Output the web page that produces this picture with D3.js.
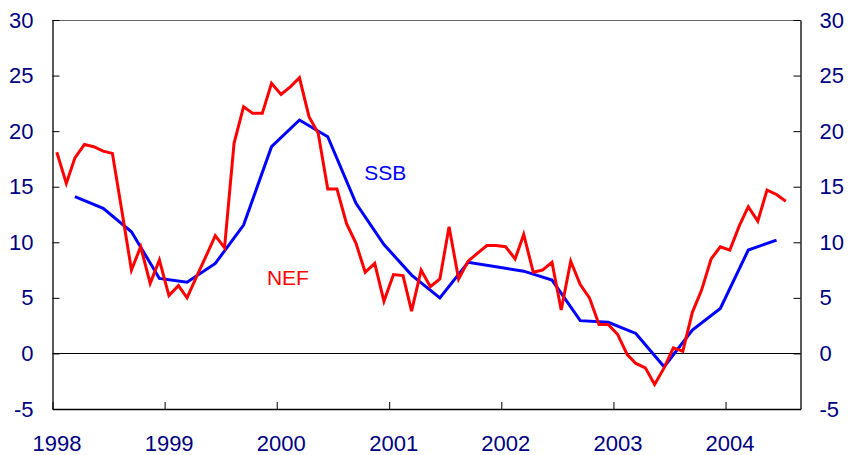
<!DOCTYPE html>
<html>
<head>
<meta charset="utf-8">
<script src="https://cdn.jsdelivr.net/npm/d3@7"></script>
<style>
  body { margin: 0; background: #fff; }
  svg { display: block; font-family: "Liberation Sans", Arial, sans-serif; }
</style>
</head>
<body>
<svg id="chart" width="849" height="455"></svg>
<script>
// monthly NEF series, Jan 1998 - Jul 2004
var nefValues = [
  18.1, 15.3, 17.6, 18.8, 18.6, 18.2, 18.0, 12.8, 7.5, 9.6, 6.3, 8.4,
  5.2, 6.1, 5.0, 6.9, 8.7, 10.6, 9.5, 18.9, 22.2, 21.6, 21.6, 24.3,
  23.3, 24.0, 24.8, 21.3, 19.8, 14.8, 14.8, 11.7, 9.9, 7.3, 8.1, 4.7,
  7.1, 7.0, 3.8, 7.5, 6.0, 6.7, 11.4, 6.7, 8.3, 9.0, 9.7, 9.7,
  9.6, 8.5, 10.7, 7.3, 7.5, 8.2, 3.9, 8.3, 6.2, 5.0, 2.6, 2.6,
  1.7, -0.1, -0.9, -1.3, -2.8, -1.3, 0.5, 0.2, 3.7, 5.7, 8.5, 9.6,
  9.3, 11.5, 13.2, 11.9, 14.7, 14.3, 13.7
];
// quarterly SSB series, Q1 1998 - Q2 2004
var ssbValues = [
  14.1, 13.05, 10.95, 6.75,
  6.4, 8.1, 11.55, 18.6,
  21.0, 19.5, 13.5, 9.8,
  7.05, 5.0, 8.2, 7.8,
  7.4, 6.6, 2.95, 2.8,
  1.8, -1.2, 2.1, 4.05,
  9.3, 10.2
];
var startYear = 1998;
var yearTicks = [1998, 1999, 2000, 2001, 2002, 2003, 2004];
var yTicks = [-5, 0, 5, 10, 15, 20, 25, 30];

(function() {
  var svg = d3.select("#chart"),
      plotLeft = 52.5, plotRight = 800.5, plotTop = 20, plotBottom = 409,
      textColor = "#000080";

  var x = d3.scaleTime()
    .domain([new Date(startYear, 0, 1), new Date(2004, 8, 1)])
    .range([plotLeft, plotRight]);

  var y = d3.scaleLinear()
    .domain([-5, 30])
    .range([plotBottom, plotTop]);

  var nef = nefValues.map(function(v, i) { return { date: new Date(startYear, i, 15), value: v }; });
  var ssb = ssbValues.map(function(v, i) { return { date: new Date(startYear, i * 3 + 2, 15), value: v }; });

  // top border
  svg.append("line")
    .attr("x1", plotLeft).attr("x2", plotRight)
    .attr("y1", plotTop + 0.5).attr("y2", plotTop + 0.5)
    .attr("stroke", "#666").attr("stroke-width", 1);

  // zero line
  svg.append("line")
    .attr("x1", plotLeft).attr("x2", plotRight)
    .attr("y1", Math.round(y(0)) + 0.5).attr("y2", Math.round(y(0)) + 0.5)
    .attr("stroke", "#000").attr("stroke-width", 1);

  function styleAxis(g) {
    g.attr("font-size", null).attr("font-family", null);
    g.select(".domain").attr("stroke", "#000").attr("stroke-width", 1.3);
    g.selectAll(".tick line").attr("stroke", "#000").attr("stroke-width", 1);
    g.selectAll(".tick text")
      .attr("fill", textColor)
      .style("font-size", "22px")
      .style("font-family", "'Liberation Sans', Arial, sans-serif");
  }

  // plain hyphen for negatives, like the original
  var yFormat = function(d) { return String(d); };

  // left axis
  svg.append("g")
    .attr("transform", "translate(" + plotLeft + ",0)")
    .call(d3.axisLeft(y).tickValues(yTicks).tickFormat(yFormat)
      .tickSizeInner(-7).tickSizeOuter(0).tickPadding(19))
    .call(styleAxis);

  // right axis
  svg.append("g")
    .attr("transform", "translate(" + plotRight + ",0)")
    .call(d3.axisRight(y).tickValues(yTicks).tickFormat(yFormat)
      .tickSizeInner(-7).tickSizeOuter(0).tickPadding(19))
    .call(styleAxis);

  // bottom axis
  var xAxis = svg.append("g")
    .attr("transform", "translate(0," + plotBottom + ")")
    .call(d3.axisBottom(x)
      .tickValues(yearTicks.map(function(yr) { return new Date(yr, 0, 1); }))
      .tickFormat(d3.timeFormat("%Y"))
      .tickSizeInner(-7).tickSizeOuter(0).tickPadding(26))
    .call(styleAxis);
  xAxis.selectAll(".tick text").attr("dx", 4);

  var line = d3.line()
    .x(function(d) { return x(d.date); })
    .y(function(d) { return y(d.value); });

  svg.append("path")
    .datum(ssb)
    .attr("fill", "none")
    .attr("stroke", "#0000ff")
    .attr("stroke-width", 3)
    .attr("d", line);

  svg.append("path")
    .datum(nef)
    .attr("fill", "none")
    .attr("stroke", "#ff0000")
    .attr("stroke-width", 3)
    .attr("d", line);

  // series labels
  svg.append("text")
    .attr("x", x(new Date(2000, 9, 12)))
    .attr("y", y(15.6))
    .attr("fill", "#0000ff")
    .style("font-size", "21px")
    .text("SSB");

  svg.append("text")
    .attr("x", x(new Date(1999, 10, 30)))
    .attr("y", y(6.15))
    .attr("fill", "#ff0000")
    .style("font-size", "21px")
    .text("NEF");
})();
</script>
</body>
</html>
